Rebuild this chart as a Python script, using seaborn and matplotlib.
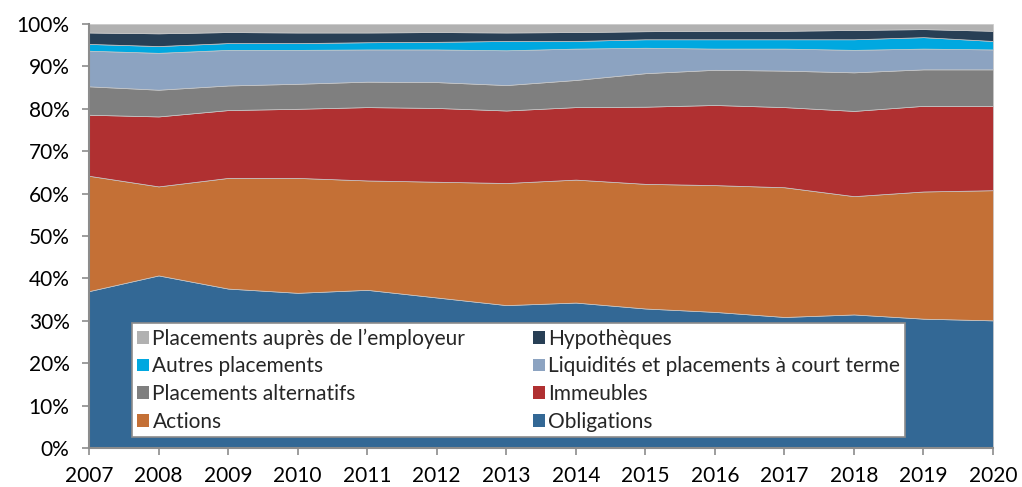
import numpy as np
import pandas as pd
import seaborn as sns
import matplotlib.pyplot as plt
from matplotlib.patches import Patch
from matplotlib.ticker import PercentFormatter

years = list(range(2007, 2021))

# parts des actifs (%), de bas en haut de la pile
obligations = [37.0, 40.7, 37.6, 36.6, 37.3, 35.5, 33.7, 34.3, 32.9, 32.1, 30.9, 31.5, 30.5, 30.1]
actions = [27.2, 21.0, 26.1, 27.1, 25.8, 27.3, 28.8, 29.0, 29.4, 29.9, 30.6, 27.9, 30.0, 30.7]
immeubles = [14.4, 16.5, 16.0, 16.3, 17.3, 17.4, 17.1, 17.1, 18.2, 18.9, 18.9, 20.1, 20.2, 19.9]
alternatifs = [6.7, 6.3, 5.8, 5.9, 6.0, 6.1, 6.0, 6.4, 7.9, 8.3, 8.6, 9.1, 8.6, 8.6]
liquidites = [8.4, 8.7, 8.4, 8.0, 7.6, 7.7, 8.2, 7.4, 6.0, 5.0, 5.2, 5.3, 4.9, 4.7]
autres = [1.6, 1.6, 1.6, 1.6, 1.7, 1.8, 2.2, 1.8, 2.0, 2.2, 2.2, 2.5, 2.7, 2.0]
hypotheques = [2.7, 3.0, 2.6, 2.5, 2.3, 2.3, 2.0, 2.1, 1.9, 2.0, 2.0, 2.2, 1.9, 2.4]
employeur = [2.0, 2.2, 1.9, 2.0, 2.0, 1.9, 2.0, 1.9, 1.7, 1.6, 1.6, 1.4, 1.2, 1.6]

labels = ["Obligations", "Actions", "Immeubles", "Placements alternatifs",
          "Liquidités et placements à court terme", "Autres placements",
          "Hypothèques", "Placements auprès de l’employeur"]
colors = ["#336895", "#c47036", "#b03031", "#7f7f7f",
          "#8ca3c1", "#00a8e0", "#283f55", "#b1b1b1"]

df = pd.DataFrame(
    np.array([obligations, actions, immeubles, alternatifs, liquidites,
              autres, hypotheques, employeur]).T,
    index=years, columns=labels)

sns.set_theme(style="white")
plt.rcParams['font.family'] = ['Lato', 'DejaVu Sans']

fig = plt.figure(figsize=(10.22, 4.87), dpi=100)
ax = fig.add_axes([0.0871, 0.0801, 0.8845, 0.8706])

ax.stackplot(df.index, [df[c] for c in labels], colors=colors,
             edgecolor="#c8c8c8", linewidth=0.5)

ax.set_xlim(2007, 2020)
ax.set_ylim(0, 100)
ax.set_xticks(years)
ax.set_yticks(range(0, 101, 10))
ax.yaxis.set_major_formatter(PercentFormatter(decimals=0))
ax.tick_params(axis="both", length=5, width=1.2, color="#8c8c8c",
               direction="out", labelsize=15, labelcolor="black",
               bottom=True, left=True)
ax.tick_params(axis="y", pad=9)
ax.tick_params(axis="x", pad=8)

sns.despine(ax=ax, top=True, right=True)
for side in ["left", "bottom"]:
    ax.spines[side].set_color("#8c8c8c")
    ax.spines[side].set_linewidth(1.5)

# legende en ordre inverse, deux colonnes
order = [7, 5, 3, 1, 6, 4, 2, 0]
handles = [Patch(facecolor=colors[i], edgecolor="none") for i in order]
leg = ax.legend(handles, [labels[i] for i in order], ncol=2,
                loc="lower left", bbox_to_anchor=(0.0476, 0.026, 0.855, 0.26),
                mode="expand", fontsize=15, frameon=True, fancybox=False,
                handlelength=0.58, handleheight=0.58, handletextpad=0.15,
                labelspacing=0.37, borderpad=0.25, columnspacing=1.0,
                borderaxespad=0)
leg.get_frame().set_edgecolor("#8c8c8c")
leg.get_frame().set_linewidth(1.2)
leg.get_frame().set_facecolor("white")
leg.get_frame().set_alpha(1)

fig.savefig("out.png", dpi=100)
